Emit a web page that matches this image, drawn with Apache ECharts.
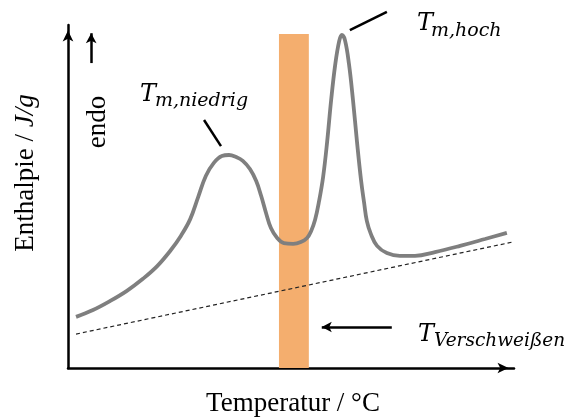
<!DOCTYPE html>
<html>
<head>
<meta charset="utf-8">
<script src="https://cdn.jsdelivr.net/npm/echarts@6/dist/echarts.min.js"></script>
<style>
  html, body { margin: 0; padding: 0; background: #fff; }
  #chart { width: 568px; height: 418px; }
</style>
</head>
<body>
<div id="chart"></div>
<script>
// DSC-Kurve, Achsen in willkürlichen Einheiten (0..100)
var curveX = [1.8, 5.6, 9.4, 13.2, 16.8, 20.0, 22.9, 25.3, 27.4, 29.2, 30.9, 32.7, 34.5, 36.1, 37.7, 39.2,
              40.8, 42.2, 43.3, 44.4, 45.5, 46.9, 48.4, 50.5, 52.2, 53.6, 54.5, 55.4, 56.3, 57.2, 58.1, 59.0,
              59.9, 60.8, 61.4, 62.1, 63.0, 63.9, 64.8, 65.7, 66.4, 67.0, 67.9, 69.3, 71.5, 74.4, 77.8, 82.3,
              87.9, 93.5, 98.4];
var curveY = [14.9, 16.9, 19.5, 22.5, 26.0, 29.7, 34.1, 38.5, 43.4, 49.9, 56.0, 59.8, 61.8, 62.1, 61.5, 60.4,
              58.0, 54.5, 50.2, 45.2, 40.8, 37.9, 36.4, 36.2, 36.7, 37.9, 39.9, 43.2, 48.7, 55.7, 65.9, 78.1,
              88.3, 95.3, 97.1, 95.6, 88.6, 78.1, 65.9, 54.8, 48.1, 42.9, 39.1, 35.6, 33.5, 32.7, 32.7, 33.8,
              35.6, 37.6, 39.4];

// gestrichelte Basislinie
var baseX = [1.8, 99.6];
var baseY = [9.9, 36.7];

// Schweißfenster (orange)
var bandX = [47.3, 54.0];
var bandY = [0, 97.4];

// Hinweislinien und Pfeile
var leaderNiedrig = [[30.5, 72.3], [34.3, 64.7]];
var leaderHoch = [[63.2, 98.5], [71.5, 103.8]];
var endoArrow = [[5.2, 88.9], [5.2, 97.6]];
var weldArrow = [[72.6, 11.95], [56.9, 11.95]];

function toPairs(xs, ys) {
    var out = [];
    for (var i = 0; i < xs.length; i++) out.push([xs[i], ys[i]]);
    return out;
}

function arrowSeg(pts) {
    return [
        { coord: pts[0], symbol: 'none' },
        { coord: pts[1], symbol: 'arrow' }
    ];
}

function leader(name, pts) {
    return {
        name: name,
        type: 'line',
        data: pts,
        showSymbol: false,
        silent: true,
        clip: false,
        z: 5,
        lineStyle: { color: '#000', width: 2.5 }
    };
}

var chart = echarts.init(document.getElementById('chart'), null, { renderer: 'canvas' });

var serif = '"Liberation Serif", "Times New Roman", serif';
var mathFont = '"DejaVu Serif", serif';

var option = {
    backgroundColor: '#ffffff',
    animation: false,
    grid: { left: 68, right: 54, top: 25, bottom: 50 },
    xAxis: {
        type: 'value',
        min: 0,
        max: 100,
        axisLine: {
            show: true,
            lineStyle: { color: '#000', width: 2.5 },
            symbol: ['none', 'arrow'],
            symbolSize: [8, 11],
            symbolOffset: [0, -5.5]
        },
        axisTick: { show: false },
        axisLabel: { show: false },
        splitLine: { show: false }
    },
    yAxis: {
        type: 'value',
        min: 0,
        max: 100,
        axisLine: {
            show: true,
            lineStyle: { color: '#000', width: 2.5 },
            symbol: ['none', 'arrow'],
            symbolSize: [8, 11],
            symbolOffset: [0, -5.5]
        },
        axisTick: { show: false },
        axisLabel: { show: false },
        splitLine: { show: false }
    },
    series: [{
        name: 'Basislinie',
        type: 'line',
        data: toPairs(baseX, baseY),
        showSymbol: false,
        silent: true,
        clip: false,
        z: 3,
        lineStyle: { color: '#222', width: 1.2, type: [4, 3] },
        markArea: {
            silent: true,
            z: 1,
            itemStyle: { color: '#F4AE6E' },
            data: [[
                { coord: [bandX[0], bandY[0]] },
                { coord: [bandX[1], bandY[1]] }
            ]]
        }
    }, {
        name: 'DSC',
        type: 'line',
        data: toPairs(curveX, curveY),
        smooth: 0.4,
        showSymbol: false,
        silent: true,
        clip: false,
        z: 4,
        lineStyle: { color: '#7F7F7F', width: 3.8 }
    },
    leader('T_m,niedrig', leaderNiedrig),
    leader('T_m,hoch', leaderHoch),
    {
        name: 'Pfeile',
        type: 'line',
        data: [],
        silent: true,
        markLine: {
            silent: true,
            animation: false,
            symbolSize: [8, 10],
            label: { show: false },
            lineStyle: { color: '#000', width: 2.5, type: 'solid' },
            emphasis: { disabled: true },
            data: [
                arrowSeg(endoArrow),
                arrowSeg(weldArrow)
            ]
        }
    }],
    graphic: [{
        type: 'text',
        x: 26, y: 173,
        rotation: Math.PI / 2,
        style: {
            text: '{n|Enthalpie / }{i|J/g}',
            align: 'center',
            verticalAlign: 'middle',
            rich: {
                n: { fontFamily: serif, fontSize: 27, fill: '#000' },
                i: { fontFamily: serif, fontSize: 27, fontStyle: 'italic', fill: '#000' }
            }
        }
    }, {
        type: 'text',
        x: 98, y: 122,
        rotation: Math.PI / 2,
        style: {
            text: 'endo',
            font: '27px ' + serif,
            fill: '#000',
            align: 'center',
            verticalAlign: 'middle'
        }
    }, {
        type: 'text',
        x: 293, y: 404,
        style: {
            text: 'Temperatur / °C',
            font: '27px ' + serif,
            fill: '#000',
            align: 'center',
            verticalAlign: 'middle'
        }
    }, {
        type: 'text',
        x: 140, y: 95,
        style: { text: 'T', font: 'italic 24px ' + mathFont, fill: '#000', verticalAlign: 'middle' }
    }, {
        type: 'text',
        x: 155, y: 101,
        style: { text: 'm,niedrig', font: 'italic 19px ' + mathFont, fill: '#000', verticalAlign: 'middle' }
    }, {
        type: 'text',
        x: 417, y: 24,
        style: { text: 'T', font: 'italic 24px ' + mathFont, fill: '#000', verticalAlign: 'middle' }
    }, {
        type: 'text',
        x: 431, y: 31,
        style: { text: 'm,hoch', font: 'italic 19px ' + mathFont, fill: '#000', verticalAlign: 'middle' }
    }, {
        type: 'text',
        x: 418, y: 335,
        style: { text: 'T', font: 'italic 24px ' + mathFont, fill: '#000', verticalAlign: 'middle' }
    }, {
        type: 'text',
        x: 434, y: 341,
        style: { text: 'Verschweißen', font: 'italic 18.5px ' + mathFont, fill: '#000', verticalAlign: 'middle' }
    }]
};

chart.setOption(option);
</script>
</body>
</html>
